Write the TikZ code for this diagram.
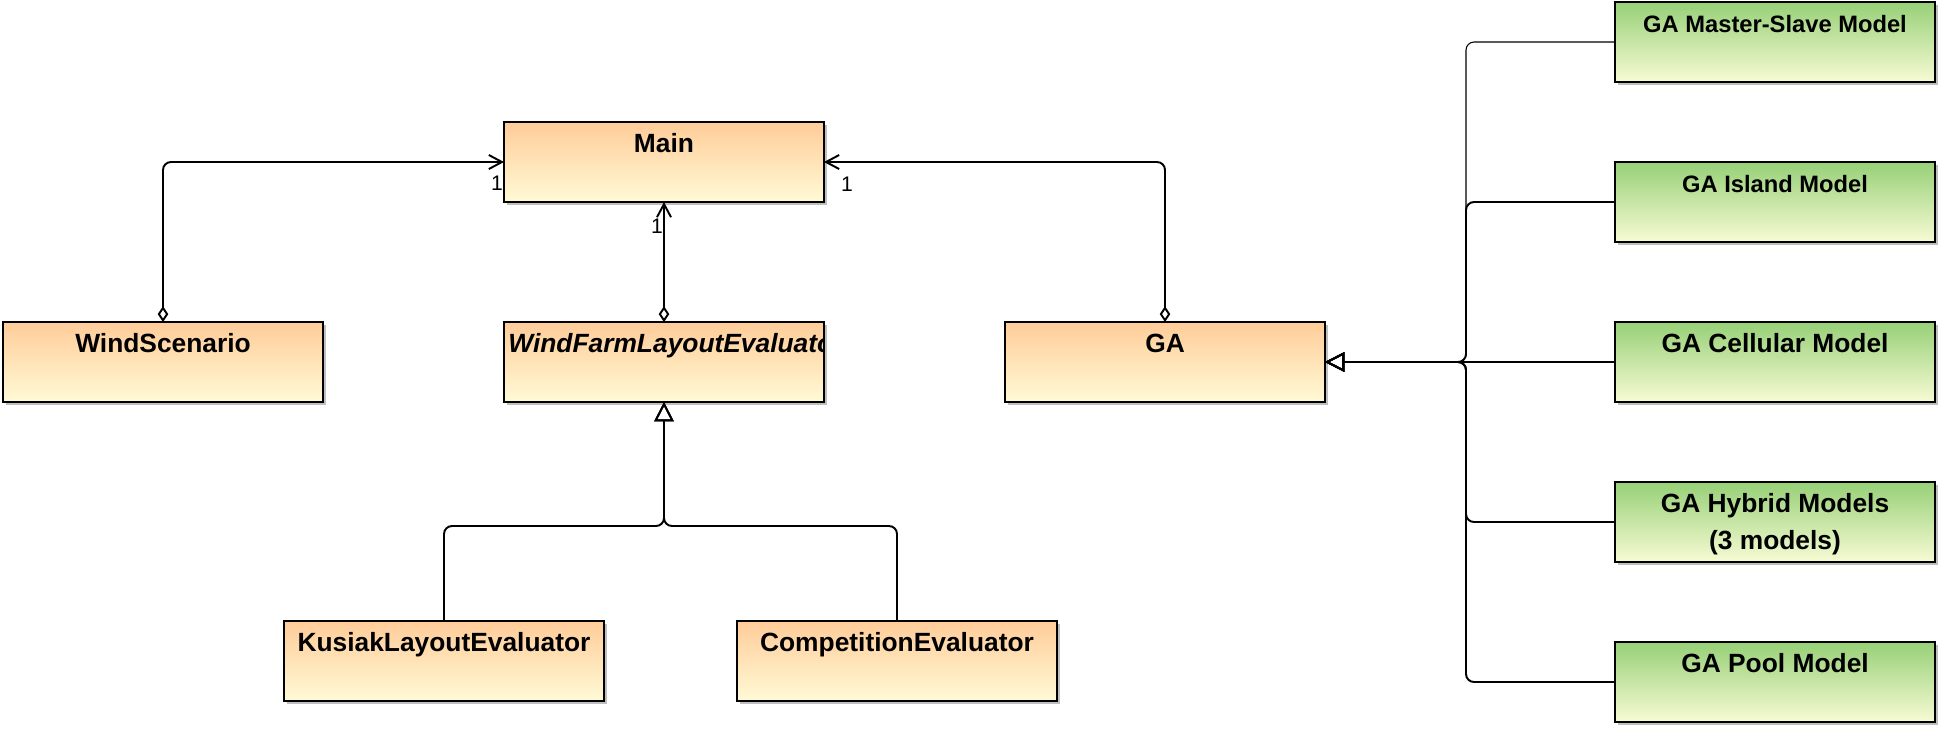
\documentclass[tikz,border=0pt]{standalone}
\usepackage{fontspec}
\setmainfont{Liberation Sans}
\usepackage{tikz}
\usetikzlibrary{arrows.meta}
\usetikzlibrary{shadows}
\definecolor{clstop}{HTML}{FFCC99}
\definecolor{clsbot}{HTML}{FFFAD6}
\definecolor{gatop}{HTML}{97D077}
\definecolor{gabot}{HTML}{F7FBD4}

\begin{document}
\begin{tikzpicture}[
  x=0.02cm,y=-0.02cm,
  cls/.style={draw,line width=0.8pt,minimum width=6.4cm,minimum height=1.6cm,inner sep=0pt,outer sep=0pt,
    top color=clstop,bottom color=clsbot,
    drop shadow={shadow xshift=0.06cm,shadow yshift=-0.06cm,fill=black!25,opacity=1},
    text height=0.6cm,text depth=1cm,align=center,font=\fontsize{15}{21}\selectfont\bfseries},
  model/.style={cls,top color=gatop,bottom color=gabot},
  smallmodel/.style={model,font=\fontsize{13.5}{18}\selectfont\bfseries},
  mult/.style={inner sep=0pt,font=\fontsize{12}{14}\selectfont},
  assoc/.style={line width=1.1pt,rounded corners=0.16cm,{Diamond[open,length=9pt,width=6pt]}-{Straight Barb[length=7.5pt,width=8pt]}},
  inherit/.style={line width=1.1pt,rounded corners=0.16cm,-{Triangle[open,length=11pt,width=11pt]}}]
      \useasboundingbox (0,0) rectangle (1939,728);

     % classes
     \node [cls] (main) at (664,162) {Main};
     \node [cls] (wind) at (163,362) {WindScenario};
     \node [cls] (wfle) at (664,362) {};
     \begin{scope}
       \clip (wfle.south west) rectangle (wfle.north east);
       \node [anchor=base west,inner sep=0pt,font=\fontsize{15}{21}\selectfont\bfseries\itshape] (wfletext) at (508,352) {WindFarmLayoutEvaluator};
     \end{scope}
     \node [cls] (ga) at (1165,362) {GA};
     \node [cls] (kusiak) at (444,661) {KusiakLayoutEvaluator};
     \node [cls] (comp) at (897,661) {CompetitionEvaluator};

     % GA models
     \node [smallmodel] (ms) at (1775,42) {GA Master-Slave Model};
     \node [smallmodel] (island) at (1775,202) {GA Island Model};
     \node [model] (cell) at (1775,362) {GA Cellular Model};
     \node [model,text height=1.34cm,text depth=0.26cm] (hybrid) at (1775,522) {GA Hybrid Models\\(3 models)};
     \node [model] (pool) at (1775,682) {GA Pool Model};

     % aggregations
     \draw [assoc] (wind.north) |- (main.west);
     \draw [assoc] (wfle.north) -- (main.south);
     \draw [assoc] (ga.north) |- (main.east);
     \node [mult] (mwind) at (497,183) {1};
     \node [mult] (mwfle) at (657,226) {1};
     \node [mult] (mga) at (847,184) {1};

     % generalisations
     \coordinate (evjoin) at (664,526);
     \foreach \sub in {kusiak,comp}
       \draw [inherit] (\sub.north) |- (evjoin) -- (wfle.south);
     \coordinate (gajoin) at (1466,362);
     \draw [inherit,line width=0.6pt] (ms.west) -| (gajoin) -- (ga.east);
     \foreach \sub in {island,hybrid,pool}
       \draw [inherit] (\sub.west) -| (gajoin) -- (ga.east);
     \draw [inherit] (cell.west) -- (ga.east);

  \end{tikzpicture}
\end{document}
